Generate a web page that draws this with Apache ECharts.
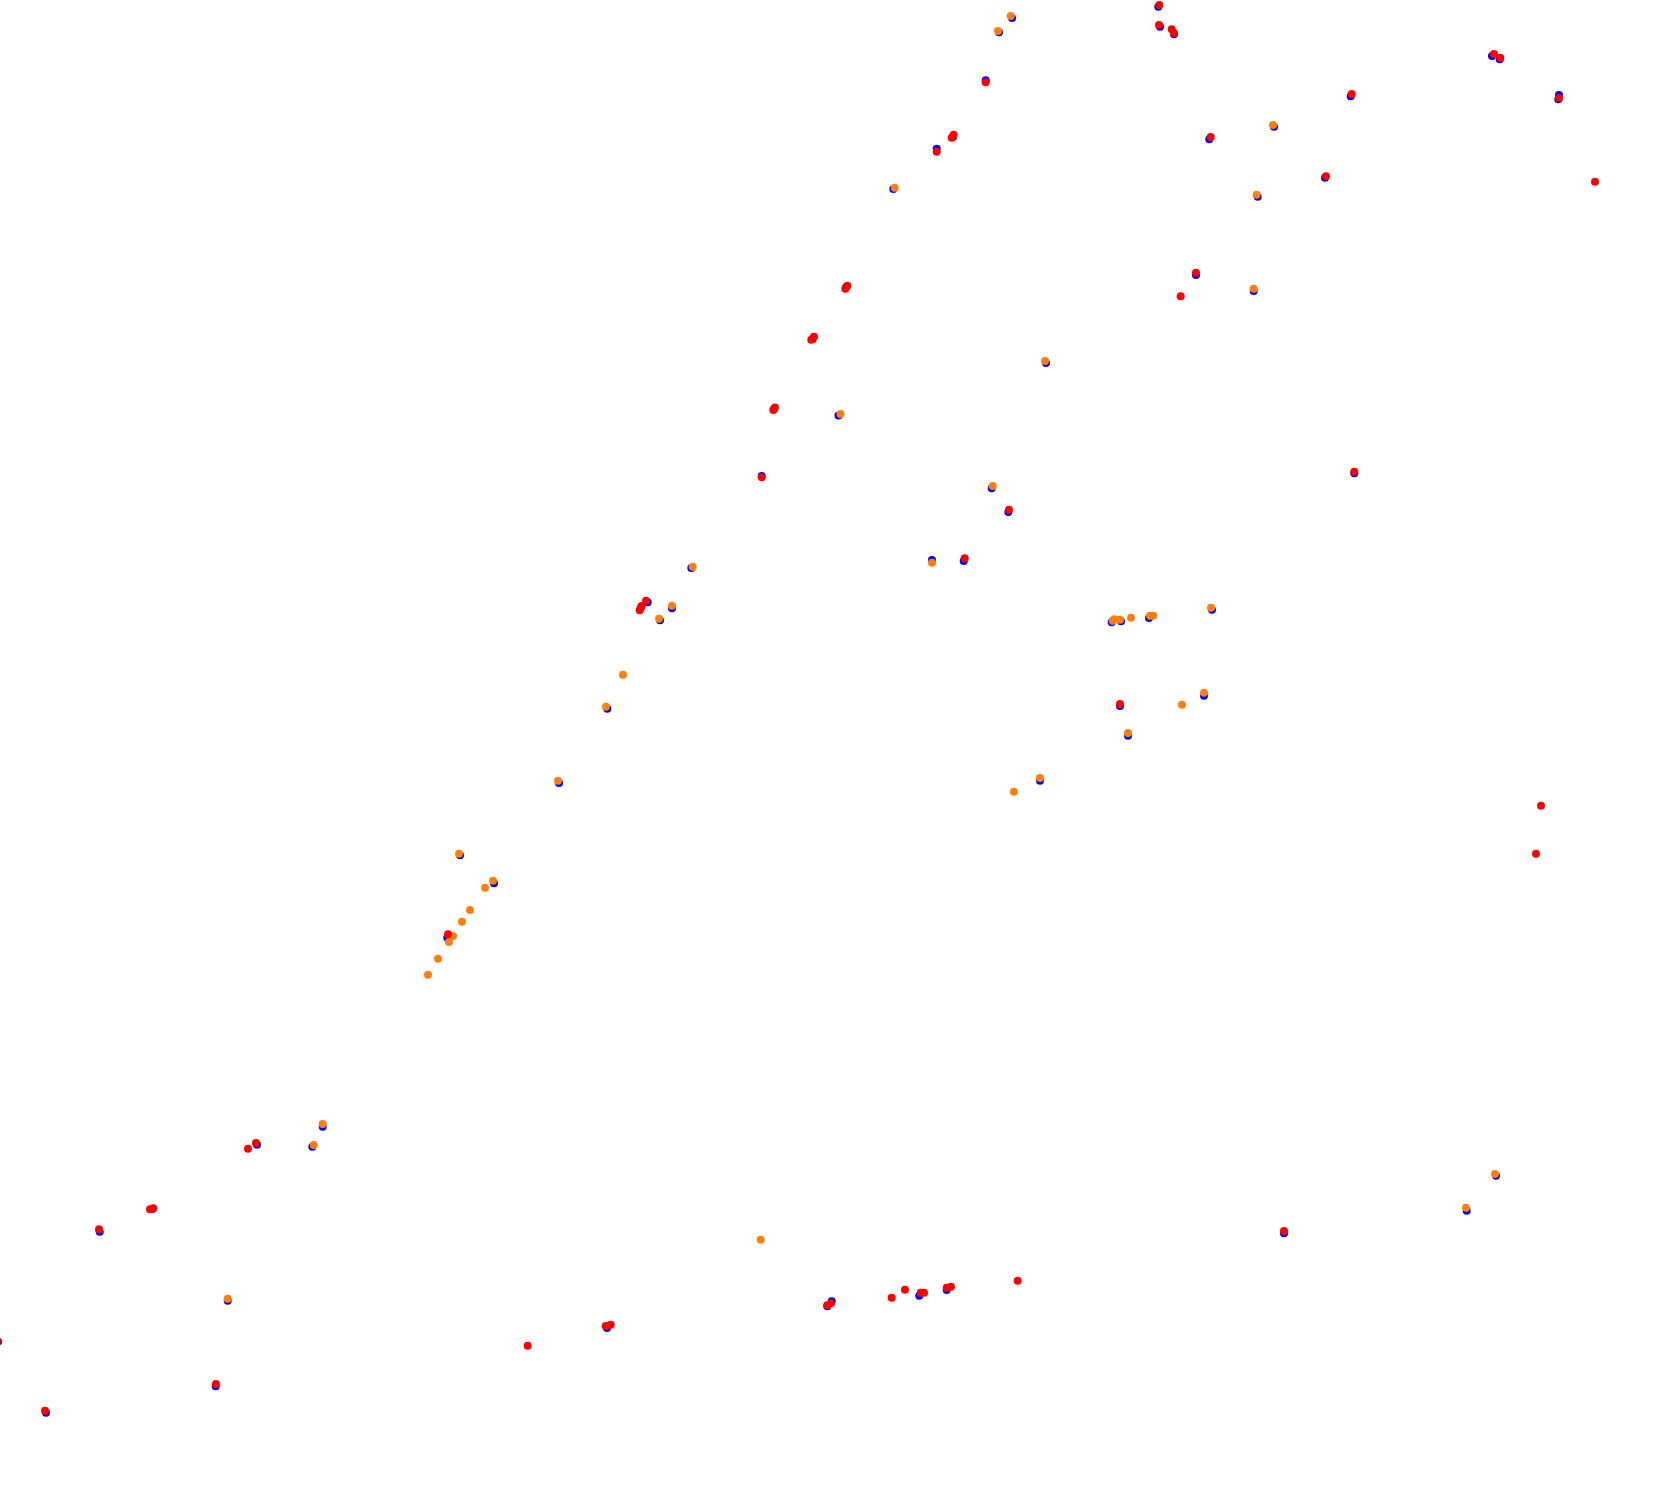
<!DOCTYPE html>
<html>
<head>
<meta charset="utf-8">
<script src="https://cdn.jsdelivr.net/npm/echarts@6/dist/echarts.min.js"></script>
<style>
html,body{margin:0;padding:0;background:#fff;}
#chart{width:1680px;height:1490px;}
</style>
</head>
<body>
<div id="chart"></div>
<script>
// Points as [x, y] in plot units (x: 0..1680 left→right, y: 0..1490 top→bottom)
const bluePoints = [
  [812.7,339],[774,409],[761.7,476],[838.5,415.5],
  [1012,18],[999,32.3],[1158.3,6.7],[1160,26.7],[1174,34.3],[985.7,80.3],[953,137],[936.7,148.7],
  [893.3,189],[1209.3,139.3],[1257.7,196.7],[846,287.3],[1196,275],[1253.7,291],[1046,363],[991.7,488.3],
  [1492,56],[1499.7,59.3],[1350.7,96.3],[1558.3,99.3],[1559,95],[1274,126.7],[1325,177.7],[1354.3,473.3],
  [691.3,568],[640.7,608],[647.7,602.3],[672,608.3],[660,620.3],[607.3,708.7],[559,783],[460,855.3],
  [494,883.3],[447.3,937.7],
  [1008.3,512],[932,560],[963.7,561],[1121,621.3],[1111.7,622.3],[1149,618],[1212,609.7],[1120,706],
  [1204,695.7],[1128,735.7],[1040,780.7],
  [322.7,1126.7],[257,1144.7],[312.3,1146.7],[152.3,1209],[99.7,1231.7],[227.7,1300.7],[-2,1341.7],
  [215.7,1386.3],[46,1412.7],
  [827.3,1306.3],[831.7,1301.3],[607,1328],
  [919.3,1295.7],[946.7,1290],
  [1496,1175.7],[1466.7,1210.7],[1284,1233.3]
];
const orangePoints = [
  [840.5,414],
  [1010.7,16],[998,31],[894.7,187.7],[1256.7,194.7],[1253.7,288.7],[1045,361],[992.7,486],
  [1273,125],
  [692.7,566.7],[672,605.7],[659,618.7],[623,674.7],[606,706.7],[558,780.7],[459,853.7],[493,880.7],
  [485,887.7],[470,910],[462,921.7],[453,936],[449,942],[438,958.7],[428,974.7],
  [932,562.7],[1112.7,620.7],[1114.3,619.3],[1120,619.7],[1131,617.7],[1150,615.7],[1153.3,615.7],
  [1211,607.7],[1182,704.7],[1204,692.7],[1128,733],[1040,778],[1014,791.7],
  [322.7,1124],[313.7,1145],[227.7,1298.7],
  [760.7,1239.7],
  [1495,1174],[1466,1207.7]
];
const redPoints = [
  [814,336.7],[811.3,339.7],[773.3,410],[775,407.5],[761.7,477.3],
  [1159.3,5],[1159,25],[1171.7,29.3],[1174,33],[985.7,82.3],[953.7,134.7],[951.7,137.7],[936.7,151.7],
  [1210.7,137],[847.3,285.7],[845.3,288.7],[1196,272.7],[1180.7,296.3],
  [1494,54],[1500.3,57.7],[1351.7,94],[1559,98],[1326,176.3],[1595,181.7],[1354.3,471.7],
  [646,600.7],[641.7,606],[639.7,610.3],[448,934.3],
  [1009,509.7],[964.7,558.3],[1120,704],
  [1541,805.7],[1536,853.7],
  [256,1143],[248,1148.7],[150,1209.3],[153.3,1208.3],[99,1229.3],[-3,1340.7],[216,1384],[45,1410.7],
  [831,1303.3],[827.3,1305.3],[610.7,1324.7],[605.7,1326],[527.7,1345.7],
  [891.7,1297.7],[905,1289.7],[920.7,1292.7],[924,1292.7],[946.7,1287.7],[951,1286.7],[1017.7,1280.7],
  [1284,1231]
];

const chart = echarts.init(document.getElementById('chart'), null, {renderer: 'canvas'});
function sc(name, data, color) {
  return {
    name: name, type: 'scatter', data: data, symbol: 'circle', symbolSize: 8,
    itemStyle: {color: color, opacity: 1}, clip: false, silent: true,
    emphasis: {disabled: true}
  };
}
chart.setOption({
  animation: false,
  backgroundColor: '#ffffff',
  grid: {left: 0, right: 0, top: 0, bottom: 0, containLabel: false},
  xAxis: {type: 'value', min: 0, max: 1680, show: false},
  yAxis: {type: 'value', min: 0, max: 1490, inverse: true, show: false},
  series: [
    sc('blue', bluePoints, '#0000ff'),
    sc('orange', orangePoints, '#ff7f0e'),
    sc('red', redPoints, '#ff0000')
  ]
});
</script>
</body>
</html>
